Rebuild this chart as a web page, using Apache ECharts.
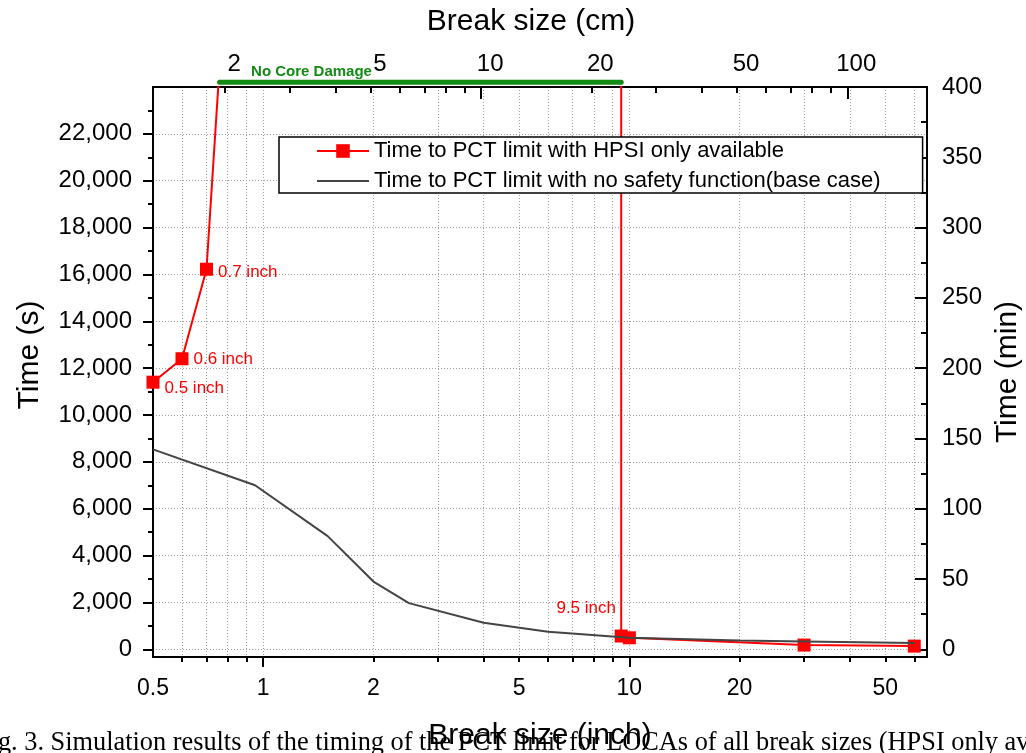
<!DOCTYPE html>
<html>
<head>
<meta charset="utf-8">
<script src="https://cdn.jsdelivr.net/npm/echarts@6/dist/echarts.min.js"></script>
<style>
html, body { margin: 0; padding: 0; background: #fff; }
#chart { width: 1026px; height: 753px; }
</style>
</head>
<body>
<div id="chart"></div>
<script>
// break size (inch) -> time to PCT limit (s)
var hpsiSize = [0.5, 0.6, 0.7, 0.8, 9.5, 9.5, 10, 30, 60];
var hpsiTime = [11400, 12400, 16220, 30300, 30300, 565, 490, 180, 135];
var baseSize = [0.5, 0.95, 1.5, 2, 2.5, 4, 6, 10, 20, 30, 60];
var baseTime = [8530, 7000, 4830, 2890, 1970, 1135, 745, 495, 370, 330, 265];

// point notes
var noteSize = [0.5, 0.6, 0.7, 9.5];
var noteText = ['0.5 inch', '0.6 inch', '0.7 inch', '9.5 inch'];

// no core damage range (inch)
var noCoreSize = [0.76, 9.5];

// ticks
var inchLabels = [0.5, 1, 2, 5, 10, 20, 50];
var inchMajor = [1, 10];
var inchMinor = [0.6, 0.7, 0.8, 0.9, 2, 3, 4, 5, 6, 7, 8, 9, 20, 30, 40, 50, 60];
var cmLabels = [2, 5, 10, 20, 50, 100];
var cmMajor = [10, 100];
var cmMinor = [2, 3, 4, 5, 6, 7, 8, 9, 20, 30, 40, 50, 60, 70, 80, 90];
var secLabels = [0, 2000, 4000, 6000, 8000, 10000, 12000, 14000, 16000, 18000, 20000, 22000];
var secMinor = [1000, 3000, 5000, 7000, 9000, 11000, 13000, 15000, 17000, 19000, 21000, 23000];
var minLabels = [0, 50, 100, 150, 200, 250, 300, 350, 400];
var minMinor = [25, 75, 125, 175, 225, 275, 325, 375];

var nameHpsi = 'Time to PCT limit with HPSI only available';
var nameBase = 'Time to PCT limit with no safety function(base case)';

var FONT = 'Liberation Sans';
var lg = function (v) { return Math.log10(v); };
var fmtSize = function (v) { return String(+Math.pow(10, v).toPrecision(3)); };
var xMin = 0.5, xMax = 65, cm = 2.54;
var yMin = -330, yMax = 24000;

var blackLine = { color: '#000', width: 2 };
var gridLine = { show: true, lineStyle: { color: '#a0a0a0', width: 1, type: [1, 2] } };

var noteStyle = [
    { position: 'right', offset: [0, 6] },
    { position: 'right', offset: [0, 1] },
    { position: 'right', offset: [0, 3] },
    { position: 'top', offset: [-35, -8] }
];

var hpsiData = hpsiSize.map(function (s, i) {
    var item = { value: [lg(s), hpsiTime[i]] };
    var k = noteSize.indexOf(s);
    if (k >= 0 && hpsiTime[i] < yMax) {
        item.label = {
            show: true,
            formatter: noteText[k],
            position: noteStyle[k].position,
            offset: noteStyle[k].offset,
            color: '#ff0000',
            fontSize: 17,
            fontFamily: FONT
        };
    }
    return item;
});
var baseData = baseSize.map(function (s, i) { return [lg(s), baseTime[i]]; });
var noCoreData = noCoreSize.map(function (s, i) {
    var item = { value: [lg(s), 24200] };
    if (i === 0) {
        item.label = {
            show: true,
            formatter: 'No Core Damage',
            position: 'right',
            distance: 0,
            offset: [29, -10],
            color: '#138a13',
            fontSize: 15,
            fontWeight: 'bold',
            fontFamily: FONT
        };
    }
    return item;
});

var chart = echarts.init(document.getElementById('chart'));

var option = {
    backgroundColor: '#fff',
    animation: false,
    grid: { left: 153, right: 99, top: 87, bottom: 96, outerBoundsMode: 'none' },
    legend: {
        data: [
            { name: nameHpsi },
            { name: nameBase, itemStyle: { color: 'rgba(0,0,0,0)', borderWidth: 0 } }
        ],
        orient: 'vertical',
        left: 279,
        top: 137,
        padding: [3, 42, 1, 37],
        itemGap: 8,
        itemWidth: 52,
        itemHeight: 17,
        borderColor: '#000',
        borderWidth: 1.5,
        backgroundColor: '#fff',
        textStyle: { fontSize: 22, color: '#000', fontFamily: FONT }
    },
    graphic: [{
        type: 'text',
        x: -24,
        y: 729,
        scaleX: 0.94,
        z: 1,
        style: {
            text: 'Fig. 3. Simulation results of the timing of the PCT limit for LOCAs of all break sizes (HPSI only available)',
            fontSize: 28,
            fontFamily: 'Liberation Serif',
            fill: '#000',
            verticalAlign: 'top'
        }
    }],
    xAxis: [{
        type: 'value', position: 'bottom', min: lg(xMin), max: lg(xMax),
        name: 'Break size (inch)', nameLocation: 'middle', nameGap: 64,
        nameTextStyle: { fontSize: 30, color: '#000', fontFamily: FONT },
        axisLine: { onZero: false, lineStyle: blackLine },
        axisTick: { customValues: inchMajor.map(lg), length: 10, lineStyle: blackLine },
        axisLabel: { customValues: inchLabels.map(lg), formatter: fmtSize, fontSize: 23, color: '#000', margin: 20, fontFamily: FONT },
        splitLine: gridLine
    }, {
        type: 'value', position: 'bottom', min: lg(xMin), max: lg(xMax),
        axisLine: { show: false, onZero: false },
        axisTick: { customValues: inchMinor.map(lg), length: 5, lineStyle: blackLine },
        axisLabel: { show: false },
        splitLine: gridLine
    }, {
        type: 'value', position: 'top', min: lg(xMin * cm), max: lg(xMax * cm),
        name: 'Break size (cm)', nameLocation: 'middle', nameGap: 50,
        nameTextStyle: { fontSize: 30, color: '#000', fontFamily: FONT, padding: [0, 18, 0, 0] },
        axisLine: { onZero: false, lineStyle: blackLine },
        axisTick: { inside: true, customValues: cmMajor.map(lg), length: 12, lineStyle: blackLine },
        axisLabel: { customValues: cmLabels.map(lg), formatter: fmtSize, fontSize: 24, color: '#000', margin: 11, padding: [0, 0, 0, 18], fontFamily: FONT },
        splitLine: { show: false }
    }, {
        type: 'value', position: 'top', min: lg(xMin * cm), max: lg(xMax * cm),
        axisLine: { show: false, onZero: false },
        axisTick: { inside: true, customValues: cmMinor.map(lg), length: 6, lineStyle: blackLine },
        axisLabel: { show: false },
        splitLine: { show: false }
    }],
    yAxis: [{
        type: 'value', position: 'left', min: yMin, max: yMax,
        name: 'Time (s)', nameLocation: 'middle', nameGap: 108, nameRotate: 90,
        nameTextStyle: { fontSize: 30, color: '#000', fontFamily: FONT, padding: [0, 0, 0, 34] },
        axisLine: { show: true, onZero: false, lineStyle: blackLine },
        axisTick: { customValues: secLabels, length: 10, lineStyle: blackLine },
        axisLabel: {
            customValues: secLabels,
            formatter: function (v) { return v.toLocaleString('en-US'); },
            fontSize: 24, color: '#000', margin: 21, fontFamily: FONT
        },
        splitLine: gridLine
    }, {
        type: 'value', position: 'left', min: yMin, max: yMax,
        axisLine: { show: false, onZero: false },
        axisTick: { customValues: secMinor, length: 5, lineStyle: blackLine },
        axisLabel: { show: false },
        splitLine: { show: false }
    }, {
        type: 'value', position: 'right', min: yMin / 60, max: yMax / 60,
        name: 'Time (min)', nameLocation: 'middle', nameGap: 63, nameRotate: 90,
        nameTextStyle: { fontSize: 30, color: '#000', fontFamily: FONT },
        axisLine: { show: true, onZero: false, lineStyle: blackLine },
        axisTick: { inside: true, customValues: minLabels, length: 12, lineStyle: blackLine },
        axisLabel: { customValues: minLabels, fontSize: 24, color: '#000', margin: 15, fontFamily: FONT },
        splitLine: { show: false }
    }, {
        type: 'value', position: 'right', min: yMin / 60, max: yMax / 60,
        axisLine: { show: false, onZero: false },
        axisTick: { inside: true, customValues: minMinor, length: 6, lineStyle: blackLine },
        axisLabel: { show: false },
        splitLine: { show: false }
    }],
    series: [{
        name: nameHpsi,
        type: 'line',
        xAxisIndex: 0,
        yAxisIndex: 0,
        data: hpsiData,
        symbol: 'rect',
        symbolSize: 13,
        lineStyle: { color: '#ff0000', width: 2 },
        itemStyle: { color: '#ff0000' },
        z: 3
    }, {
        name: nameBase,
        type: 'line',
        xAxisIndex: 0,
        yAxisIndex: 0,
        data: baseData,
        symbol: 'none',
        lineStyle: { color: '#444', width: 2 },
        itemStyle: { color: '#444' },
        z: 4
    }, {
        name: 'No Core Damage',
        type: 'line',
        xAxisIndex: 0,
        yAxisIndex: 0,
        data: noCoreData,
        clip: false,
        symbol: 'circle',
        symbolSize: 5,
        lineStyle: { color: '#138a13', width: 5 },
        itemStyle: { color: '#138a13' },
        z: 5
    }]
};

chart.setOption(option);
</script>
</body>
</html>
